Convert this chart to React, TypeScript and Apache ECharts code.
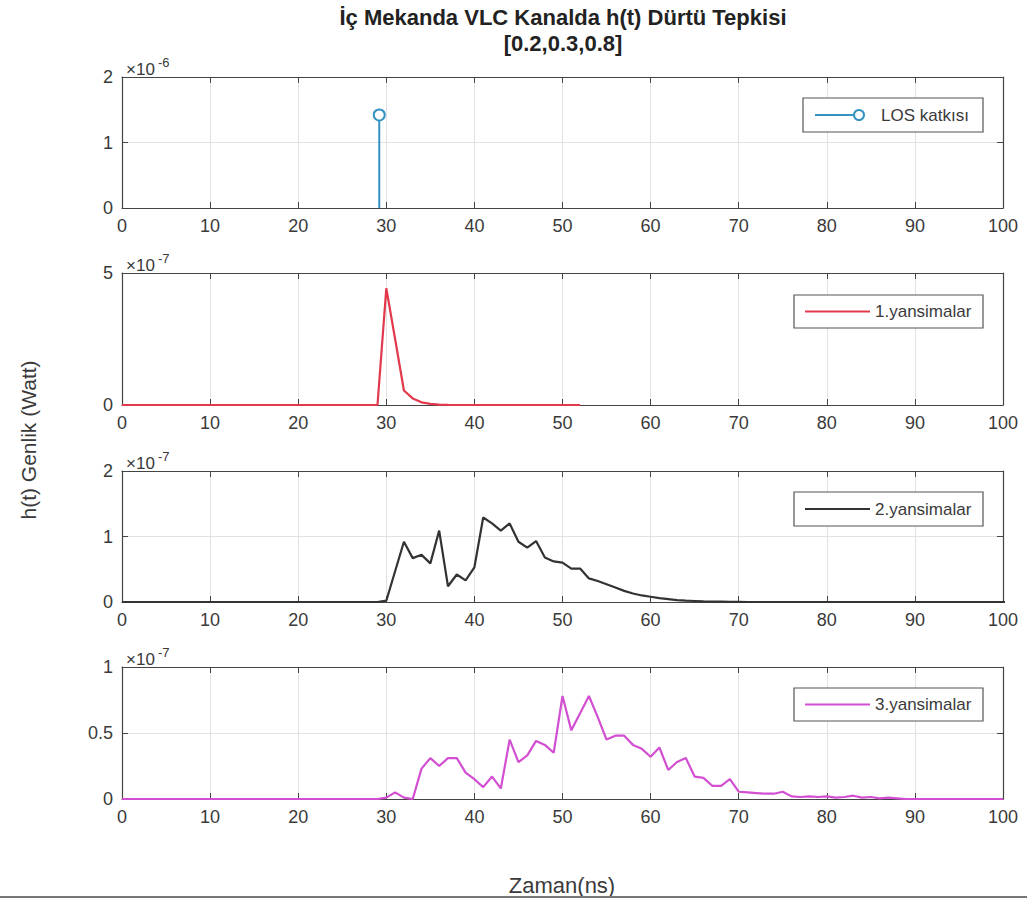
import React, { useEffect, useRef } from "react";
import * as echarts from "echarts";

// ---- data (amplitudes shown in the units of each panel's exponent) ----
const titleLines = ["İç Mekanda VLC Kanalda h(t) Dürtü Tepkisi", "[0.2,0.3,0.8]"];
const seriesNames = ["LOS katkısı", "1.yansimalar", "2.yansimalar", "3.yansimalar"];
const exponents = ["-6", "-7", "-7", "-7"];
const yMax = [2, 5, 2, 1];
const yStep = [1, 5, 1, 0.5];
const xTickStep = 10;
const xMax = 100;

// LOS stem (time in ns, amplitude ×1e-6)
const losTime = [29.2];
const losAmp = [1.42];

// 1 ns bins, amplitudes ×1e-7
const reflection1 = [
  0, 0, 0, 0, 0, 0, 0, 0, 0, 0,
  0, 0, 0, 0, 0, 0, 0, 0, 0, 0,
  0, 0, 0, 0, 0, 0, 0, 0, 0, 0,
  4.42, 2.5, 0.55, 0.25, 0.1, 0.04, 0.015, 0.005, 0, 0,
  0, 0, 0, 0, 0, 0, 0, 0, 0, 0,
  0, 0, 0,
];
const reflection2 = [
  0, 0, 0, 0, 0, 0, 0, 0, 0, 0,
  0, 0, 0, 0, 0, 0, 0, 0, 0, 0,
  0, 0, 0, 0, 0, 0, 0, 0, 0, 0,
  0.02, 0.47, 0.92, 0.67, 0.72, 0.59, 1.09, 0.24, 0.42, 0.33,
  0.53, 1.29, 1.2, 1.09, 1.2, 0.92, 0.83, 0.93, 0.68, 0.62,
  0.6, 0.51, 0.51, 0.36, 0.32, 0.27, 0.22, 0.17, 0.13, 0.1,
  0.08, 0.06, 0.045, 0.03, 0.02, 0.015, 0.01, 0.007, 0.005, 0.003,
  0.002, 0, 0, 0, 0, 0, 0, 0, 0, 0,
  0, 0, 0, 0, 0, 0, 0, 0, 0, 0,
  0, 0, 0, 0, 0, 0, 0, 0, 0, 0,
  0, 0,
];
const reflection3 = [
  0, 0, 0, 0, 0, 0, 0, 0, 0, 0,
  0, 0, 0, 0, 0, 0, 0, 0, 0, 0,
  0, 0, 0, 0, 0, 0, 0, 0, 0, 0,
  0.01, 0.05, 0.01, 0, 0.23, 0.31, 0.25, 0.31, 0.31, 0.2,
  0.15, 0.09, 0.17, 0.08, 0.45, 0.28, 0.33, 0.44, 0.41, 0.35,
  0.78, 0.52, 0.65, 0.78, 0.62, 0.45, 0.48, 0.48, 0.41, 0.38,
  0.32, 0.39, 0.22, 0.28, 0.31, 0.17, 0.16, 0.1, 0.1, 0.15,
  0.055, 0.05, 0.045, 0.04, 0.04, 0.055, 0.02, 0.015, 0.02, 0.015,
  0.02, 0.01, 0.015, 0.025, 0.01, 0.015, 0.005, 0.01, 0.005, 0,
  0, 0, 0, 0, 0, 0, 0, 0, 0, 0,
  0,
];
const timeStepNs = 1;

const colors = ["#3593c2", "#e23a4c", "#333333", "#d24fd2"];

const FONT = "'Liberation Sans', Arial, Helvetica, sans-serif";
const AXIS_COLOR = "#444444";
const GRID_COLOR = "#e2e2e2";
const TEXT_COLOR = "#3a3a3a";

const grids = [
  { left: 122, top: 77, width: 881, height: 131 },
  { left: 122, top: 273, width: 881, height: 132 },
  { left: 122, top: 471, width: 881, height: 131 },
  { left: 122, top: 667, width: 881, height: 132 },
];
const legendBoxes = [
  { x: 803, y: 98, w: 180, h: 34 },
  { x: 794, y: 295, w: 189, h: 33 },
  { x: 794, y: 492, w: 189, h: 34 },
  { x: 794, y: 688, w: 189, h: 33 },
];

function toXY(values: number[]) {
  return values.map((v, i) => [i * timeStepNs, v]);
}

export default function App() {
  const ref = useRef<HTMLDivElement>(null);

  useEffect(() => {
    document.body.style.margin = "0";
    if (!ref.current) return;
    const chart = echarts.init(ref.current, undefined, { renderer: "svg" });

    const xAxes: any[] = [];
    const yAxes: any[] = [];
    grids.forEach((_, i) => {
      const tick = { show: true, inside: true, length: 6, lineStyle: { color: AXIS_COLOR } };
      const line = { show: true, onZero: false, lineStyle: { color: AXIS_COLOR, width: 1.2 } };
      xAxes.push({
        type: "value", gridIndex: i, position: "bottom", min: 0, max: xMax, interval: xTickStep,
        axisLine: line, axisTick: tick,
        axisLabel: { color: TEXT_COLOR, fontSize: 18, fontFamily: FONT, margin: 9 },
        splitLine: { show: true, lineStyle: { color: GRID_COLOR, width: 1 } },
      });
      xAxes.push({
        type: "value", gridIndex: i, position: "top", min: 0, max: xMax, interval: xTickStep,
        axisLine: line, axisTick: tick, axisLabel: { show: false }, splitLine: { show: false },
      });
      yAxes.push({
        type: "value", gridIndex: i, position: "left", min: 0, max: yMax[i], interval: yStep[i],
        axisLine: line, axisTick: tick,
        axisLabel: { color: TEXT_COLOR, fontSize: 18, fontFamily: FONT, margin: 9 },
        splitLine: { show: true, lineStyle: { color: GRID_COLOR, width: 1 } },
      });
      yAxes.push({
        type: "value", gridIndex: i, position: "right", min: 0, max: yMax[i], interval: yStep[i],
        axisLine: line, axisTick: tick, axisLabel: { show: false }, splitLine: { show: false },
      });
    });

    const series: any[] = [
      {
        name: seriesNames[0], type: "line", xAxisIndex: 0, yAxisIndex: 0,
        data: [
          { value: [losTime[0], 0], symbol: "none" },
          { value: [losTime[0], losAmp[0]], symbol: "emptyCircle", symbolSize: 11 },
        ],
        lineStyle: { color: colors[0], width: 2 },
        itemStyle: { color: colors[0], borderWidth: 2 },
      },
      {
        name: seriesNames[1], type: "line", xAxisIndex: 2, yAxisIndex: 2, data: toXY(reflection1),
        showSymbol: false, lineStyle: { color: colors[1], width: 2.2 }, itemStyle: { color: colors[1] },
      },
      {
        name: seriesNames[2], type: "line", xAxisIndex: 4, yAxisIndex: 4, data: toXY(reflection2),
        showSymbol: false, lineStyle: { color: colors[2], width: 2.2 }, itemStyle: { color: colors[2] },
      },
      {
        name: seriesNames[3], type: "line", xAxisIndex: 6, yAxisIndex: 6, data: toXY(reflection3),
        showSymbol: false, lineStyle: { color: colors[3], width: 2.2 }, itemStyle: { color: colors[3] },
      },
    ];

    const graphics: any[] = [];
    // title
    graphics.push({
      type: "text", x: 563, y: 17,
      style: { text: titleLines[0], fill: "#222", font: `bold 22px ${FONT}`, align: "center", verticalAlign: "middle" },
    });
    graphics.push({
      type: "text", x: 563, y: 43,
      style: { text: titleLines[1], fill: "#222", font: `bold 22px ${FONT}`, align: "center", verticalAlign: "middle" },
    });
    // axis titles
    graphics.push({
      type: "text", x: 28, y: 440, rotation: Math.PI / 2,
      style: { text: "h(t) Genlik (Watt)", fill: TEXT_COLOR, font: `21px ${FONT}`, align: "center", verticalAlign: "middle" },
    });
    graphics.push({
      type: "text", x: 562, y: 885,
      style: { text: "Zaman(ns)", fill: TEXT_COLOR, font: `22px ${FONT}`, align: "center", verticalAlign: "middle" },
    });
    graphics.push({
      type: "line", shape: { x1: 0, y1: 897, x2: 1027, y2: 897 },
      style: { stroke: "#777", lineWidth: 2 },
    });
    // exponents + legends
    grids.forEach((g, i) => {
      graphics.push({
        type: "text", x: 126, y: g.top - 8,
        style: { text: "×10", fill: TEXT_COLOR, font: `17px ${FONT}`, align: "left", verticalAlign: "middle" },
      });
      graphics.push({
        type: "text", x: 158, y: g.top - 15,
        style: { text: exponents[i], fill: TEXT_COLOR, font: `13px ${FONT}`, align: "left", verticalAlign: "middle" },
      });
      const b = legendBoxes[i];
      const cy = b.y + b.h / 2;
      graphics.push({
        type: "rect", shape: { x: b.x, y: b.y, width: b.w, height: b.h },
        style: { fill: "#fff", stroke: "#555", lineWidth: 1.2 }, z: 10,
      });
      const lx1 = i === 0 ? b.x + 12 : b.x + 11;
      const lx2 = i === 0 ? b.x + 56 : b.x + 76;
      graphics.push({
        type: "line", shape: { x1: lx1, y1: cy, x2: lx2, y2: cy },
        style: { stroke: colors[i], lineWidth: 2 }, z: 11,
      });
      if (i === 0) {
        graphics.push({
          type: "circle", shape: { cx: lx2, cy, r: 5 },
          style: { fill: "#fff", stroke: colors[0], lineWidth: 2 }, z: 12,
        });
      }
      graphics.push({
        type: "text", x: i === 0 ? b.x + 78 : b.x + 81, y: cy,
        style: { text: seriesNames[i], fill: TEXT_COLOR, font: `17px ${FONT}`, align: "left", verticalAlign: "middle" },
        z: 12,
      });
    });

    chart.setOption({
      animation: false,
      backgroundColor: "#fff",
      grid: grids,
      xAxis: xAxes,
      yAxis: yAxes,
      series,
      graphic: graphics,
    });

    return () => chart.dispose();
  }, []);

  return <div ref={ref} style={{ width: 1027, height: 902 }} />;
}
